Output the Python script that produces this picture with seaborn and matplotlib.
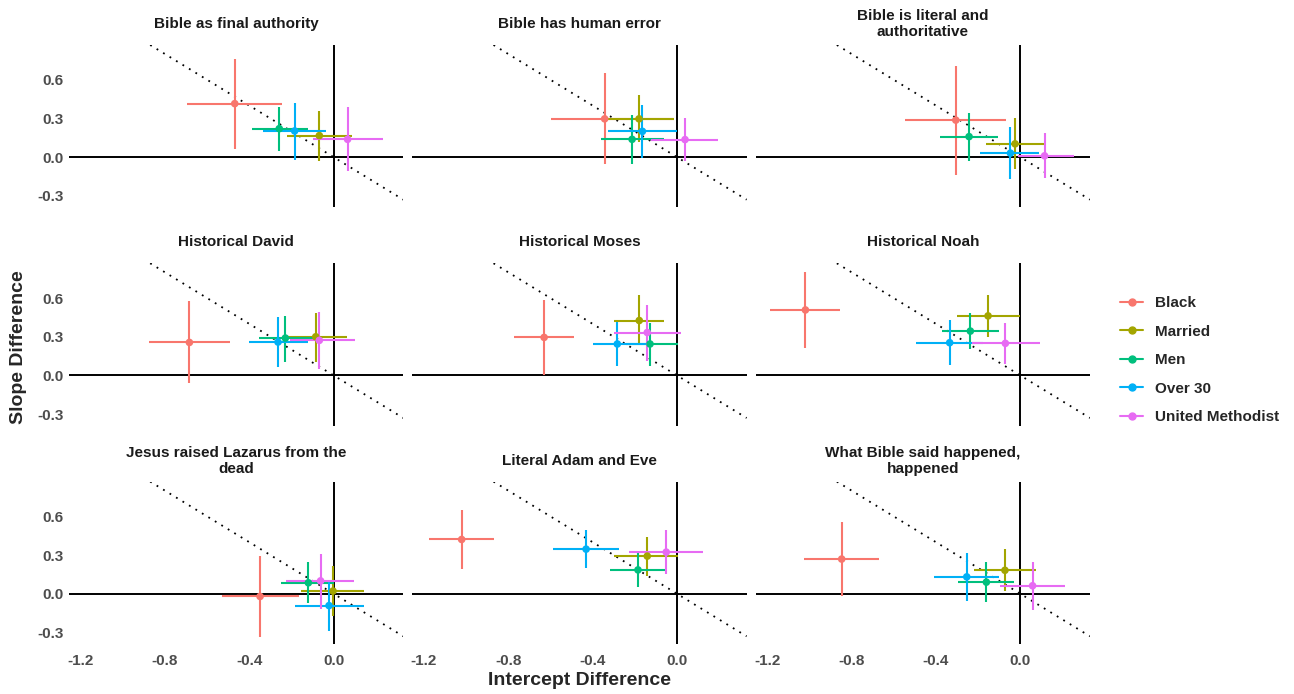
import numpy as np
import pandas as pd
import seaborn as sns
import matplotlib.pyplot as plt
from matplotlib.lines import Line2D

items = [
    "Bible as final authority", "Bible has human error", "Bible is literal and\nauthoritative",
    "Historical David", "Historical Moses", "Historical Noah",
    "Jesus raised Lazarus from the\ndead", "Literal Adam and Eve", "What Bible said happened,\nhappened",
]
groups = ["Black", "Married", "Men", "Over 30", "United Methodist"]
palette = ["#F8766D", "#A3A500", "#00BF7D", "#00B0F6", "#E76BF3"]

# per item: values for Black, Married, Men, Over 30, United Methodist
intercept = [
    [-0.469, -0.068, -0.258, -0.185, 0.066],
    [-0.343, -0.180, -0.213, -0.164, 0.038],
    [-0.306, -0.025, -0.243, -0.047, 0.115],
    [-0.684, -0.085, -0.229, -0.264, -0.068],
    [-0.630, -0.179, -0.128, -0.283, -0.141],
    [-1.019, -0.153, -0.237, -0.335, -0.071],
    [-0.349, -0.003, -0.120, -0.022, -0.062],
    [-1.021, -0.141, -0.185, -0.431, -0.051],
    [-0.847, -0.073, -0.161, -0.254, 0.058],
]
intercept_lo = [
    [-0.694, -0.223, -0.387, -0.333, -0.098],
    [-0.597, -0.329, -0.360, -0.329, -0.123],
    [-0.548, -0.163, -0.379, -0.193, -0.013],
    [-0.877, -0.224, -0.354, -0.401, -0.209],
    [-0.771, -0.300, -0.242, -0.397, -0.300],
    [-1.186, -0.302, -0.373, -0.494, -0.229],
    [-0.529, -0.153, -0.250, -0.182, -0.224],
    [-1.177, -0.297, -0.316, -0.586, -0.226],
    [-1.028, -0.221, -0.294, -0.408, -0.096],
]
intercept_hi = [
    [-0.243, 0.085, -0.122, -0.036, 0.232],
    [-0.013, -0.013, -0.063, 0.000, 0.193],
    [-0.066, 0.115, -0.107, 0.090, 0.253],
    [-0.490, 0.063, -0.090, -0.122, 0.100],
    [-0.487, -0.060, 0.003, -0.120, 0.019],
    [-0.853, 0.000, -0.100, -0.179, 0.093],
    [-0.164, 0.142, 0.000, 0.142, 0.096],
    [-0.866, 0.006, -0.052, -0.273, 0.125],
    [-0.668, 0.074, -0.028, -0.100, 0.212],
]
slope = [
    [0.415, 0.167, 0.221, 0.203, 0.138],
    [0.297, 0.297, 0.138, 0.200, 0.136],
    [0.287, 0.103, 0.159, 0.031, 0.010],
    [0.256, 0.300, 0.290, 0.259, 0.272],
    [0.295, 0.426, 0.244, 0.244, 0.333],
    [0.508, 0.462, 0.344, 0.254, 0.249],
    [-0.021, 0.021, 0.085, -0.092, 0.100],
    [0.421, 0.292, 0.185, 0.346, 0.323],
    [0.269, 0.182, 0.090, 0.131, 0.062],
]
slope_lo = [
    [0.064, -0.028, 0.051, -0.026, -0.108],
    [-0.056, 0.121, -0.054, -0.008, -0.033],
    [-0.136, -0.095, -0.028, -0.169, -0.162],
    [-0.059, 0.103, 0.108, 0.069, 0.051],
    [0.005, 0.236, 0.074, 0.074, 0.113],
    [0.210, 0.295, 0.203, 0.082, 0.092],
    [-0.333, -0.174, -0.072, -0.290, -0.118],
    [0.190, 0.138, 0.049, 0.197, 0.151],
    [-0.015, 0.018, -0.067, -0.059, -0.123],
]
slope_hi = [
    [0.762, 0.356, 0.385, 0.423, 0.390],
    [0.654, 0.479, 0.323, 0.403, 0.305],
    [0.710, 0.303, 0.346, 0.231, 0.185],
    [0.577, 0.487, 0.462, 0.454, 0.495],
    [0.587, 0.621, 0.408, 0.415, 0.549],
    [0.800, 0.626, 0.487, 0.428, 0.403],
    [0.292, 0.215, 0.249, 0.103, 0.308],
    [0.651, 0.441, 0.318, 0.492, 0.492],
    [0.556, 0.344, 0.249, 0.313, 0.249],
]
xticks = [-1.2, -0.8, -0.4, 0.0]
yticks = [-0.3, 0.0, 0.3, 0.6]

rows = []
for i, item in enumerate(items):
    for j, grp in enumerate(groups):
        rows.append(dict(item=item, group=grp,
                         intercept=intercept[i][j], int_lo=intercept_lo[i][j], int_hi=intercept_hi[i][j],
                         slope=slope[i][j], sl_lo=slope_lo[i][j], sl_hi=slope_hi[i][j]))
df = pd.DataFrame(rows)

sns.set_theme(style="white")
plt.rcParams['font.family'] = ['Liberation Sans', 'DejaVu Sans']

g = sns.FacetGrid(df, col="item", col_order=items, col_wrap=3, hue="group",
                  hue_order=groups, palette=palette, sharex=True, sharey=True,
                  height=2.2, aspect=1.5, despine=False)


def draw_err(data, color=None, **kw):
    ax = plt.gca()
    ax.errorbar(data["intercept"], data["slope"],
                xerr=[data["intercept"] - data["int_lo"], data["int_hi"] - data["intercept"]],
                yerr=[data["slope"] - data["sl_lo"], data["sl_hi"] - data["slope"]],
                fmt="none", ecolor=color, elinewidth=1.5, capsize=0, zorder=3)


for ax in g.axes.flat:
    ax.axhline(0, color="black", lw=1.4, zorder=1)
    ax.axvline(0, color="black", lw=1.4, zorder=1)
    ax.axline((0, 0), slope=-1, color="black", lw=1.3, ls=(0, (1, 3.2)), zorder=2)

g.map_dataframe(draw_err)
g.map_dataframe(sns.scatterplot, x="intercept", y="slope", s=30, edgecolor="none", zorder=4)

g.set(xlim=(-1.255, 0.33), ylim=(-0.39, 0.87), xticks=xticks, yticks=yticks)
g.set_titles("")
g.set_axis_labels("", "")

for ax, item in zip(g.axes.flat, items):
    ax.set_title(item, fontsize=11, fontweight="bold", color="#1a1a1a", y=1.129, va="center", pad=0)
    for s in ax.spines.values():
        s.set_visible(False)
    ax.tick_params(axis="both", length=0, labelsize=11, labelcolor="#4d4d4d")
    ax.tick_params(axis="x", pad=7)
    ax.tick_params(axis="y", pad=4)
    ax.set_xticklabels([f"{v:.1f}" for v in xticks])
    ax.set_yticklabels([f"{v:.1f}" for v in yticks])
    for lab in ax.get_xticklabels() + ax.get_yticklabels():
        lab.set_fontweight("bold")
    ax.grid(False)

for idx, ax in enumerate(g.axes.flat):
    if idx % 3 != 0:
        ax.tick_params(labelleft=False)
    if idx < 6:
        ax.tick_params(labelbottom=False)

fig = g.fig
fig.set_size_inches(12.94, 6.94)
fig.subplots_adjust(left=0.0533, right=0.8423, top=0.9352, bottom=0.072, wspace=0.027, hspace=0.344)

fig.text(0.448, 0.020, "Intercept Difference", ha="center", va="center", fontsize=14, fontweight="bold")
fig.text(0.014, 0.50, "Slope Difference", ha="center", va="center", rotation=90, fontsize=14, fontweight="bold")

handles = [Line2D([0], [0], color=c, lw=1.5, marker="o", markersize=5) for c in palette]
fig.legend(handles, groups, loc="center left", bbox_to_anchor=(0.855, 0.481), frameon=False,
           prop=dict(size=11, weight="bold"), handlelength=1.5, labelspacing=0.95, handletextpad=0.8)

fig.savefig("out.png", dpi=100, facecolor="white")
